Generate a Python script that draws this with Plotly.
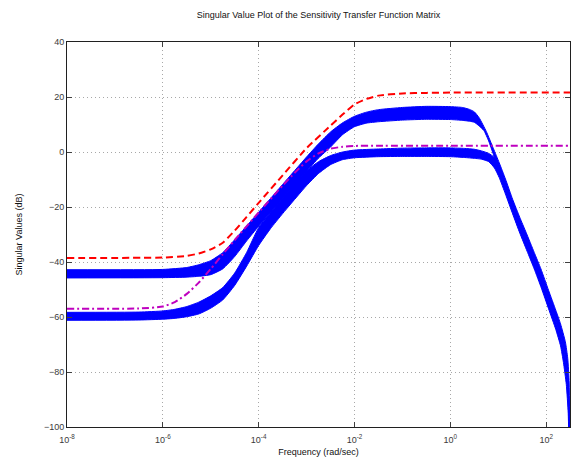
import numpy as np
import plotly.graph_objects as go

# Frequency axis runs from 1e-8 rad/s up to the Nyquist frequency (Ts = 0.01 s)
W_MIN_EXP = -8.0
W_NYQ = np.pi * 100.0

# Upper bound on sigma_max(S) (red, dashed): log10(w) and dB
RED_W = [-8, -6, -5.5, -5.25, -5.0, -4.75, -4.5, -4.25, -4.0, -3.5, -3.0, -2.5,
         -2.25, -2.0, -1.75, -1.5, -1.0, -0.5, 0.0, 2.497]
RED_DB = [-38.5, -38.4, -37.8, -36.9, -35.4, -33.0, -28.6, -23.6, -18.5, -8.5, 1.4, 9.6,
          13.6, 17.3, 19.3, 20.5, 21.3, 21.5, 21.6, 21.6]

# Bound on sigma_min(S) (magenta, dash-dot)
MAG_W = [-8, -6.5, -6.0, -5.75, -5.5, -5.25, -5.0, -4.75, -4.5, -4.0, -3.5, -3.25,
         -3.0, -2.75, -2.5, -2.25, -2.0, -1.5, 0.0, 2.497]
MAG_DB = [-57.0, -56.9, -56.2, -54.6, -51.6, -47.5, -42.5, -37.2, -32.0, -22.0, -12.2, -7.6,
          -3.4, -0.5, 1.2, 1.9, 2.2, 2.3, 2.3, 2.3]

# Envelope of the family of largest singular values (upper blue band)
HI_TOP_W = [-8, -6, -5.5, -5.25, -5.0, -4.75, -4.5, -4.25, -4.0, -3.5, -3.0, -2.75,
            -2.5, -2.25, -2.0, -1.75, -1.5, -1.0, -0.5, 0.0, 0.25, 0.4, 0.5, 0.6,
            0.75, 0.9, 1.02, 1.15, 1.3, 1.45, 1.58, 1.75, 1.89, 2.05, 2.2, 2.3,
            2.4, 2.45, 2.48, 2.497]
HI_TOP_DB = [-42.8, -42.7, -42.0, -41.0, -39.5, -36.6, -31.9, -26.9, -21.9, -11.8, -1.8, 3.0,
             7.3, 10.6, 13.0, 14.5, 15.4, 16.2, 16.6, 16.5, 16.2, 15.5, 14.6, 12.5,
             7.5, 1.2, -3.9, -9.8, -17.2, -23.8, -29.2, -36.5, -42.5, -50.3, -57.5, -62.5,
             -69.0, -75.0, -84.0, -130.0]
HI_BOT_W = [-8, -6, -5.5, -5.25, -5.0, -4.75, -4.5, -4.25, -4.0, -3.5, -3.0, -2.75,
            -2.5, -2.25, -2.0, -1.75, -1.5, -1.0, -0.5, 0.0, 0.25, 0.4, 0.5, 0.6,
            0.7, 0.8, 0.9, 1.0, 1.15, 1.3, 1.45, 1.6, 1.75, 1.9, 2.05, 2.2,
            2.3, 2.38, 2.44, 2.47, 2.497]
HI_BOT_DB = [-45.8, -45.7, -45.5, -45.2, -44.6, -42.5, -38.0, -32.3, -27.0, -17.0, -7.0, -2.2,
             1.8, 6.3, 9.2, 10.5, 11.0, 11.6, 11.9, 11.8, 11.5, 11.2, 10.8, 9.5,
             7.8, 4.0, -1.0, -6.5, -13.5, -20.5, -27.5, -33.5, -40.0, -46.5, -54.0, -61.5,
             -67.0, -73.0, -80.0, -90.0, -130.0]

# Envelope of the family of smallest singular values (lower blue band)
LO_TOP_W = [-8, -6.5, -6.0, -5.75, -5.5, -5.25, -5.0, -4.75, -4.5, -4.25, -4.0, -3.5,
            -3.0, -2.75, -2.5, -2.25, -2.0, -1.5, -1.0, -0.5, 0.0, 0.3, 0.5, 0.65,
            0.8, 0.92, 1.02, 1.15, 1.3, 1.45, 1.6, 1.75, 1.9, 2.05, 2.2, 2.3,
            2.38, 2.44, 2.47, 2.497]
LO_TOP_DB = [-58.3, -58.2, -57.8, -57.2, -56.2, -54.6, -52.3, -49.3, -44.0, -36.5, -27.5, -16.8,
             -6.8, -3.5, -1.3, 0.0, 0.7, 1.1, 1.4, 1.5, 1.5, 1.3, 1.0, 0.4,
             -0.5, -2.0, -5.5, -12.0, -19.5, -26.5, -33.0, -39.5, -46.0, -54.0, -61.5, -67.0,
             -73.0, -80.0, -90.0, -130.0]
LO_BOT_W = [-8, -6.5, -6.0, -5.75, -5.5, -5.25, -5.0, -4.75, -4.5, -4.25, -4.0, -3.75,
            -3.5, -3.0, -2.75, -2.5, -2.25, -2.0, -1.5, -1.0, -0.5, 0.0, 0.3, 0.5,
            0.65, 0.8, 0.92, 1.02, 1.15, 1.3, 1.45, 1.6, 1.75, 1.9, 2.05, 2.2,
            2.3, 2.36, 2.42, 2.46, 2.48, 2.497]
LO_BOT_DB = [-61.2, -61.1, -60.8, -60.5, -59.9, -58.9, -56.8, -53.8, -48.5, -41.5, -34.0, -27.8,
             -22.4, -12.2, -7.8, -4.6, -2.8, -2.1, -1.7, -1.6, -1.6, -1.7, -2.0, -2.3,
             -2.6, -3.5, -5.8, -9.3, -15.3, -22.5, -29.5, -36.0, -42.5, -49.5, -57.0, -64.5,
             -70.5, -76.5, -84.5, -95.0, -110.0, -130.0]

X_TICK_EXP = [-8, -6, -4, -2, 0, 2]
Y_TICKS = [-100, -80, -60, -40, -20, 0, 20, 40]

BLUE = "#0000FF"
RED = "#FF0000"
MAGENTA = "#BF00BF"
FONT = "Liberation Sans, Arial, sans-serif"

fig = go.Figure()

# Each band is filled between its lower edge and its upper edge
for tw, td, bw, bd in [(HI_TOP_W, HI_TOP_DB, HI_BOT_W, HI_BOT_DB),
                       (LO_TOP_W, LO_TOP_DB, LO_BOT_W, LO_BOT_DB)]:
    fig.add_trace(go.Scatter(
        x=[10.0 ** w for w in bw], y=bd, mode="lines",
        line=dict(color=BLUE, width=1, shape="spline", smoothing=0.5),
        hoverinfo="skip", showlegend=False))
    fig.add_trace(go.Scatter(
        x=[10.0 ** w for w in tw], y=td, mode="lines", fill="tonexty", fillcolor=BLUE,
        line=dict(color=BLUE, width=1, shape="spline", smoothing=0.5),
        hoverinfo="skip", showlegend=False))

fig.add_trace(go.Scatter(
    x=[10.0 ** w for w in RED_W], y=RED_DB, mode="lines",
    line=dict(color=RED, width=2, dash="7px,4px", shape="spline", smoothing=0.5),
    showlegend=False))
fig.add_trace(go.Scatter(
    x=[10.0 ** w for w in MAG_W], y=MAG_DB, mode="lines",
    line=dict(color=MAGENTA, width=2, dash="7px,3px,2px,3px", shape="spline", smoothing=0.5),
    showlegend=False))

axis_common = dict(
    showline=True, linecolor="#202020", linewidth=1, mirror="ticks",
    ticks="inside", ticklen=5, tickcolor="#404040", tickwidth=1,
    showgrid=True, gridcolor="#a8a8a8", gridwidth=1, griddash="1px,3px",
    zeroline=False, tickfont=dict(family=FONT, size=9, color="#3a3a3a"),
)

fig.update_xaxes(
    type="log", range=[W_MIN_EXP, np.log10(W_NYQ)],
    tickvals=[10.0 ** e for e in X_TICK_EXP],
    ticktext=[f"10<sup>{e}</sup>" for e in X_TICK_EXP],
    ticklabelstandoff=4,
    title=dict(text="Frequency (rad/sec)", font=dict(family=FONT, size=9, color="#111"),
               standoff=4),
    **axis_common)
fig.update_yaxes(
    range=[-100, 40], tickvals=Y_TICKS,
    title=dict(text="Singular Values (dB)", font=dict(family=FONT, size=9, color="#111"),
               standoff=19),
    **axis_common)

fig.update_layout(
    width=575, height=459,
    margin=dict(l=67, r=4, t=42, b=30),
    paper_bgcolor="white", plot_bgcolor="white",
    title=dict(text="Singular Value Plot of the Sensitivity Transfer Function Matrix",
               x=0.5, xref="paper", y=1 - 15 / 459, yanchor="middle",
               font=dict(family=FONT, size=9, color="#111")),
    showlegend=False,
)

fig.write_html("out.html")
